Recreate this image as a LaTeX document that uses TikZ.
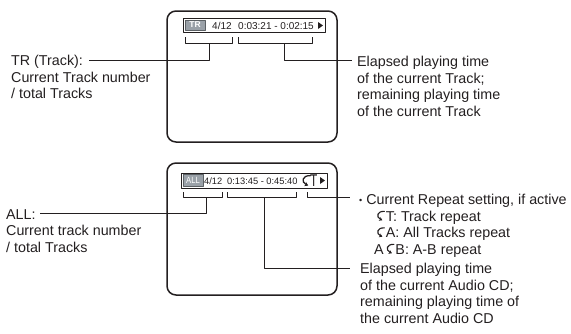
\documentclass[tikz,border=0pt]{standalone}
\usepackage{fontspec}
\setmainfont{Liberation Sans}
\usetikzlibrary{arrows.meta}
\definecolor{ink}{HTML}{231F20}
\definecolor{badge}{HTML}{9AA1A8}
\newcommand\repsym{\tikz[baseline=0pt,x=1em,y=1em]\draw[ink,line width=0.08em,line cap=round,-{Stealth[length=0.22em,width=0.28em]}] (0.62,0.68) .. controls (0.10,0.70) and (0.02,0.28) .. (0.48,0.06);}
\begin{document}
\begin{tikzpicture}[x=1pt,y=-1pt,line join=round,
  screen/.style={draw=ink,line width=1.5pt,rounded corners=9pt},
  lead/.style={draw=ink,line width=0.8pt},
  desc/.style={anchor=north west,inner sep=0pt,align=left,text=ink,font=\fontsize{14.3}{16.5}\selectfont},
  lcdbox/.style={draw=ink,line width=0.8pt,inner sep=0pt,anchor=north west},
  lcd/.style={inner sep=0pt,anchor=base west,text=ink},
  badgebox/.style={fill=badge,draw=badge!60!black,line width=0.4pt,inner sep=0pt,minimum width=20pt,text=white}]
\useasboundingbox (0,0) rectangle (571,333);
% ---------- upper screen ----------
\draw[screen] (167,11) rectangle (337,142);
\node[lcdbox,minimum width=142pt,minimum height=14pt] (lcd1) at (183,18) {};
\node[badgebox,minimum height=10pt,font=\fontsize{8.5}{8.5}\selectfont\bfseries] (tr) at (195,25) {TR};
\node[lcd,font=\fontsize{10}{10}\selectfont] (trk1) at (212,29.3) {4/12};
\node[lcd,font=\fontsize{10}{10}\selectfont] (time1) at (238,29.3) {0:03:21 - 0:02:15};
\fill[ink] (318,22) -- (323,25.5) -- (318,29) -- cycle;
% brackets
\draw[lead] (185,37) -- (185,43) -- (232,43) -- (232,37);
\draw[lead] (238,37) -- (238,43) -- (312,43) -- (312,37);
% texts
\node[desc] (tTR) at (11,55) {TR (Track):\\Current Track number\\/ total Tracks};
\node[desc] (tEl1) at (357,56) {Elapsed playing time\\of the current Track;\\remaining playing time\\of the current Track};
\coordinate (a1) at (89,60.5);
\coordinate (b1) at (209,43);
\draw[lead] (a1) -- (b1 |- a1) -- (b1);
\coordinate (a2) at (352,60.5);
\coordinate (b2) at (284,43);
\draw[lead] (b2) -- (b2 |- a2) -- (a2);
% ---------- lower screen ----------
\draw[screen] (167,163) rectangle (337,295);
\node[lcdbox,minimum width=146pt,minimum height=15pt] (lcd2) at (181,173) {};
\node[badgebox,minimum height=12pt,font=\fontsize{9}{9}\selectfont] (all) at (193,180) {\scalebox{0.85}[1]{ALL}};
\node[lcd,font=\fontsize{9.3}{9.3}\selectfont] (trk2) at (204,184.5) {4/12};
\node[lcd,font=\fontsize{9.3}{9.3}\selectfont] (time2) at (227,184.5) {0:13:45 - 0:45:40};
\node[lcd,font=\fontsize{16}{16}\selectfont] (rep) at (300,186.5) {\repsym};
\node[lcd,font=\fontsize{17}{17}\selectfont] (repT) at (310,186.5) {\scalebox{0.7}[1]{T}};
\fill[ink] (320,177) -- (325,180.5) -- (320,184) -- cycle;
% brackets
\draw[lead] (183,192) -- (183,197) -- (222,197) -- (222,192);
\draw[lead] (227,192) -- (227,197) -- (296,197) -- (296,192);
\coordinate (c3) at (350,197);
\draw[lead] (307,192) -- (307,197) -- (c3);
% texts
\node[desc] (tALL) at (6,209) {ALL:\\Current track number\\/ total Tracks};
\node[desc] (tRep) at (359,194) {\raisebox{1.5pt}{\fontsize{9}{9}\selectfont •}\hspace{4pt}Current Repeat setting, if active\\
  \hspace*{16pt}\repsym\hspace{1pt}T: Track repeat\\
  \hspace*{16pt}\repsym\hspace{1pt}A: All Tracks repeat\\
  \hspace*{15pt}A\hspace{1pt}\repsym\hspace{1pt}B: A-B repeat};
\node[desc] (tEl2) at (360,263) {Elapsed playing time\\of the current Audio CD;\\remaining playing time of\\the current Audio CD};
\coordinate (a4) at (40,213.5);
\coordinate (b4) at (206,197);
\draw[lead] (a4) -- (b4 |- a4) -- (b4);
\coordinate (a5) at (350,268);
\coordinate (b5) at (264,197);
\draw[lead] (b5) -- (b5 |- a5) -- (a5);
\end{tikzpicture}
\end{document}
